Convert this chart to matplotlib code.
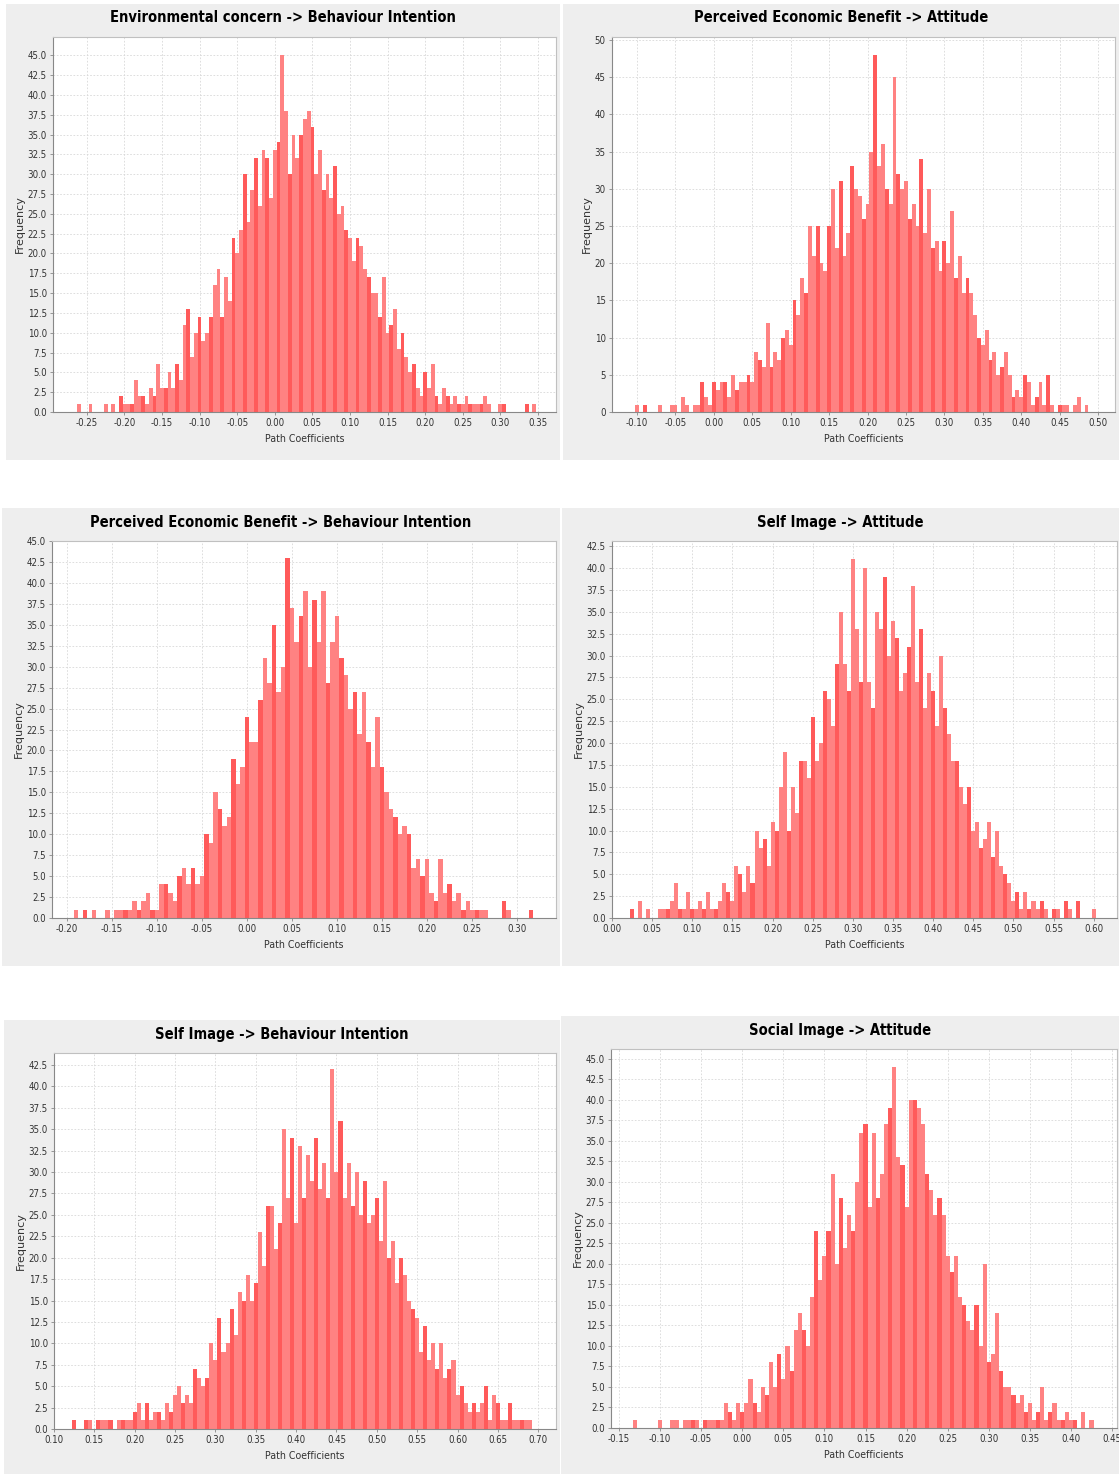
import numpy as np
import matplotlib
matplotlib.use("Agg")
import matplotlib.pyplot as plt
from matplotlib.patches import Rectangle
from matplotlib import font_manager

plt.rcParams['axes.unicode_minus'] = False

# bin width of the bootstrap histograms (coarsened)
BIN = 0.005

titles = [
	"Environmental concern -> Behaviour Intention",
	"Perceived Economic Benefit -> Attitude",
	"Perceived Economic Benefit -> Behaviour Intention",
	"Self Image -> Attitude",
	"Self Image -> Behaviour Intention",
	"Social Image -> Attitude",
]

# first bin centre of each histogram
starts = [-0.265, -0.105, -0.195, 0.025, 0.125, -0.135]

env_bi = [0, 1, 0, 0, 1, 0, 0, 0, 1, 0, 1, 0, 2, 1, 1, 1, 4, 2, 2, 1,
	3, 2, 6, 3, 3, 5, 3, 6, 4, 11, 13, 7, 10, 12, 9, 10, 12, 16, 18, 12,
	17, 14, 22, 20, 23, 30, 24, 28, 32, 26, 33, 32, 27, 33, 34, 45, 38, 30, 35, 32,
	35, 37, 38, 36, 30, 33, 28, 30, 27, 31, 25, 26, 23, 22, 19, 22, 21, 18, 17, 15,
	15, 12, 17, 10, 11, 13, 8, 10, 7, 5, 6, 3, 2, 5, 3, 6, 2, 1, 3, 2,
	1, 2, 1, 1, 2, 1, 1, 1, 1, 2, 1, 0, 0, 1, 1, 0, 0, 0, 0, 0,
	1, 0, 1]

peb_att = [0, 1, 0, 1, 0, 0, 0, 1, 0, 0, 1, 1, 0, 2, 1, 0, 1, 1, 4, 2,
	1, 4, 3, 4, 4, 2, 5, 3, 4, 4, 5, 4, 8, 7, 6, 12, 6, 8, 7, 10,
	11, 9, 15, 13, 18, 16, 25, 21, 25, 20, 19, 25, 30, 22, 31, 21, 24, 33, 30, 29,
	26, 28, 35, 48, 33, 36, 30, 28, 45, 32, 30, 31, 26, 28, 25, 34, 24, 30, 22, 23,
	19, 23, 20, 27, 18, 21, 16, 18, 16, 13, 10, 9, 11, 7, 8, 5, 6, 8, 5, 2,
	3, 2, 5, 4, 1, 2, 4, 1, 5, 1, 0, 1, 1, 1, 0, 1, 2, 0, 1]

peb_bi = [0, 1, 0, 1, 0, 1, 0, 0, 1, 0, 1, 1, 1, 1, 2, 1, 2, 3, 1, 1,
	4, 4, 3, 2, 5, 6, 4, 6, 4, 5, 10, 9, 15, 13, 11, 12, 19, 16, 18, 24,
	21, 21, 26, 31, 28, 35, 27, 30, 43, 37, 33, 36, 39, 30, 38, 33, 39, 28, 33, 36,
	31, 29, 25, 27, 22, 27, 21, 18, 24, 18, 15, 13, 12, 10, 11, 10, 6, 7, 5, 7,
	3, 2, 7, 3, 4, 2, 3, 1, 2, 1, 1, 1, 1, 0, 0, 0, 2, 1, 0, 0,
	0, 0, 1]

si_att = [1, 0, 2, 0, 1, 0, 0, 1, 1, 1, 2, 4, 1, 1, 3, 1, 1, 2, 1, 3,
	1, 1, 2, 4, 3, 2, 6, 5, 3, 6, 4, 10, 8, 9, 6, 11, 10, 15, 19, 10,
	15, 12, 18, 18, 16, 23, 18, 20, 26, 25, 22, 29, 35, 29, 26, 41, 33, 27, 40, 27,
	24, 35, 33, 39, 30, 34, 32, 26, 28, 31, 38, 27, 33, 24, 28, 26, 22, 30, 24, 21,
	18, 18, 15, 13, 15, 10, 11, 8, 9, 11, 7, 10, 6, 5, 4, 2, 3, 1, 3, 1,
	2, 1, 2, 1, 0, 1, 1, 0, 2, 1, 0, 2, 0, 0, 0, 1]

si_bi = [1, 0, 0, 1, 1, 0, 1, 1, 1, 1, 0, 1, 1, 1, 1, 2, 3, 1, 3, 1,
	2, 2, 1, 3, 2, 4, 5, 3, 4, 3, 7, 6, 5, 6, 10, 8, 13, 9, 10, 14,
	11, 16, 15, 18, 15, 17, 23, 19, 26, 26, 21, 24, 35, 27, 34, 24, 33, 27, 32, 29,
	34, 28, 31, 27, 42, 30, 36, 27, 31, 26, 30, 25, 29, 24, 25, 27, 22, 29, 20, 22,
	17, 20, 18, 15, 14, 13, 9, 12, 8, 10, 7, 10, 6, 7, 8, 4, 5, 3, 2, 3,
	2, 3, 5, 1, 4, 3, 1, 1, 3, 1, 1, 1, 1, 1]

soc_att = [0, 1, 0, 0, 0, 0, 0, 1, 0, 0, 1, 1, 0, 1, 1, 1, 1, 0, 1, 1,
	1, 1, 1, 3, 2, 1, 3, 2, 3, 6, 3, 2, 5, 4, 8, 5, 9, 6, 10, 7,
	12, 14, 12, 10, 16, 24, 18, 21, 24, 31, 20, 28, 22, 26, 24, 30, 36, 37, 27, 36,
	28, 31, 37, 39, 44, 33, 32, 27, 40, 40, 39, 37, 31, 29, 26, 28, 26, 21, 19, 21,
	16, 15, 13, 12, 15, 10, 20, 8, 9, 14, 7, 5, 5, 4, 3, 4, 2, 3, 1, 2,
	5, 1, 2, 3, 1, 1, 2, 1, 1, 0, 2, 0, 1]

series = [env_bi, peb_att, peb_bi, si_att, si_bi, soc_att]

xticks = [
	np.arange(-0.25, 0.351, 0.05),
	np.arange(-0.10, 0.501, 0.05),
	np.arange(-0.20, 0.301, 0.05),
	np.arange(0.00, 0.601, 0.05),
	np.arange(0.10, 0.701, 0.05),
	np.arange(-0.15, 0.451, 0.05),
]
yticks = [
	np.arange(0, 45.1, 2.5),
	np.arange(0, 50.1, 5),
	np.arange(0, 45.1, 2.5),
	np.arange(0, 42.6, 2.5),
	np.arange(0, 42.6, 2.5),
	np.arange(0, 45.1, 2.5),
]
xlims = [(-0.295, 0.374), (-0.1326, 0.522), (-0.2167, 0.343),
	(0.0, 0.629), (0.10, 0.722), (-0.1597, 0.456)]
ylims = [47.3, 50.4, 45.0, 43.1, 43.9, 46.2]
yfmt = ['%.1f', '%d', '%.1f', '%.1f', '%.1f', '%.1f']

# pixel boxes: (background panel), (plot area)
bg_boxes = [(6, 4, 560, 460), (563, 4, 1119, 460), (2, 508, 560, 966),
	(562, 508, 1119, 966), (4, 1020, 560, 1474), (561, 1016, 1119, 1474)]
ax_boxes = [(53, 37, 556, 412), (612, 37, 1115, 412), (52, 541, 556, 918),
	(612, 541, 1117, 918), (54, 1053, 556, 1429), (611, 1049, 1117, 1428)]
title_y = [18, 18, 522, 522, 1034, 1030]


def pick_font():
	fonts = font_manager.fontManager.ttflist
	names = {f.name for f in fonts}
	if 'Liberation Sans Narrow' in names:
		return ['Liberation Sans Narrow', 'DejaVu Sans'], 'normal'
	for f in fonts:
		if f.name == 'DejaVu Sans' and str(f.stretch) in ('condensed', 'semi-condensed'):
			return ['DejaVu Sans'], 'condensed'
	return ['Liberation Sans', 'DejaVu Sans'], 'normal'


NARROW, STRETCH = pick_font()

W, H = 1119, 1474
fig = plt.figure(figsize=(W / 100, H / 100), dpi=100)
fig.patch.set_facecolor('white')

title_objs = []
tick_objs = []
xlab_objs = []
for k in range(6):
	x0, y0, x1, y1 = bg_boxes[k]
	fig.patches.append(Rectangle((x0 / W, 1 - y1 / H), (x1 - x0) / W, (y1 - y0) / H,
		transform=fig.transFigure, facecolor='#eeeeee', edgecolor='none', zorder=-5))
	t = fig.text((x0 + x1) / 2 / W, 1 - title_y[k] / H, titles[k], ha='center', va='center',
		fontsize=14, fontweight='bold', family=NARROW, stretch=STRETCH, color='black')
	title_objs.append(t)

	a0, b0, a1, b1 = ax_boxes[k]
	ax = fig.add_axes([a0 / W, 1 - b1 / H, (a1 - a0) / W, (b1 - b0) / H])
	ax.set_facecolor('white')

	freq = np.array(series[k])
	centres = starts[k] + BIN * np.arange(len(freq))
	colors = ['#ff5a5a' if i % 3 == 0 else '#ff8282' for i in range(len(freq))]
	ax.bar(centres, freq, width=BIN, color=colors, edgecolor='none', zorder=2)

	ax.set_xlim(*xlims[k])
	ax.set_ylim(0, ylims[k])
	ax.set_xticks(xticks[k])
	ax.set_xticklabels(['%.2f' % (round(v, 2) + 0.0) for v in xticks[k]])
	ax.set_yticks(yticks[k])
	ax.set_yticklabels([yfmt[k] % v for v in yticks[k]])
	for lab in ax.get_xticklabels() + ax.get_yticklabels():
		lab.set_family(NARROW)
		lab.set_stretch(STRETCH)
		lab.set_fontsize(8)
		lab.set_color('#333333')
		tick_objs.append(lab)
	ax.tick_params(length=2.5, width=0.6, color='#888888', pad=2)
	ax.grid(True, color='#d8d8d8', linestyle=(0, (2, 2)), linewidth=0.6, zorder=1)
	ax.set_axisbelow(True)
	for s in ['left', 'bottom']:
		ax.spines[s].set_color('#888888')
		ax.spines[s].set_linewidth(0.8)
	for s in ['top', 'right']:
		ax.spines[s].set_color('#c0c0c0')
		ax.spines[s].set_linewidth(0.8)

	xl = ax.set_xlabel('Path Coefficients', fontsize=9, family=NARROW, stretch=STRETCH,
		color='#333333', labelpad=4)
	xlab_objs.append(xl)
	ax.set_ylabel('Frequency', fontsize=8, color='#333333', labelpad=2)

# fit the text widths to the reference (title 1 is ~347 px, x label ~80 px, "0.00" ~20 px)
r = fig.canvas.get_renderer()
tw = title_objs[0].get_window_extent(r).width
for t in title_objs:
	t.set_fontsize(min(15, 14 * 347 / tw))
lw = xlab_objs[0].get_window_extent(r).width
for t in xlab_objs:
	t.set_fontsize(min(10, 9 * 80 / lw))
probe = fig.text(0, 0, '0.00', fontsize=8, family=NARROW, stretch=STRETCH)
pw = probe.get_window_extent(r).width
probe.remove()
for t in tick_objs:
	t.set_fontsize(min(8.5, 8 * 19 / pw))

fig.savefig('out.png', dpi=100, facecolor='white')
